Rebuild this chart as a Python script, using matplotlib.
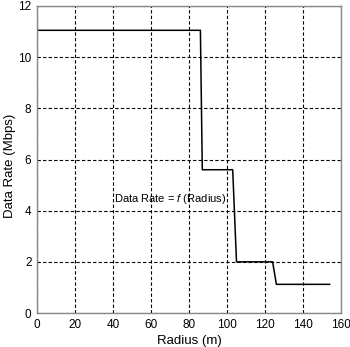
import matplotlib
matplotlib.use("Agg")
import matplotlib.pyplot as plt

plt.rcParams["font.family"] = ["Liberation Sans", "DejaVu Sans"]
plt.rcParams["mathtext.fontset"] = "custom"
plt.rcParams["mathtext.rm"] = "Liberation Sans"
plt.rcParams["mathtext.it"] = "Liberation Sans:italic"

# step profile: data rate vs radius
radius = [0, 86, 87, 103, 105, 124, 126, 154]
rate = [11.05, 11.05, 5.6, 5.6, 2.0, 2.0, 1.12, 1.12]

x_ticks = [0, 20, 40, 60, 80, 100, 120, 140, 160]
y_ticks = [0, 2, 4, 6, 8, 10, 12]

fig = plt.figure(figsize=(3.5, 3.47), dpi=100)
ax = fig.add_axes([37 / 350, 34 / 347, 304 / 350, 307 / 347])

ax.plot(radius, rate, color="black", linewidth=1.1)
ax.text(40.5, 4.45, "Data Rate = $f$ (Radius)", fontsize=8, va="center",
        ha="left")

ax.set_xlim(0, 160)
ax.set_ylim(0, 12)
ax.set_xticks(x_ticks)
ax.set_yticks(y_ticks)
ax.grid(True, color="black", linestyle=(0, (3, 2)), linewidth=0.8)
ax.tick_params(length=0, labelsize=8.5, pad=4)
for s in ax.spines.values():
    s.set_color("#888888")
    s.set_linewidth(1.0)

ax.set_xlabel("Radius (m)", fontsize=9.5, labelpad=3)
ax.set_ylabel("Data Rate (Mbps)", fontsize=9.5)
ax.yaxis.set_label_coords(-0.068, 0.48)

fig.savefig("out.png", dpi=100)
